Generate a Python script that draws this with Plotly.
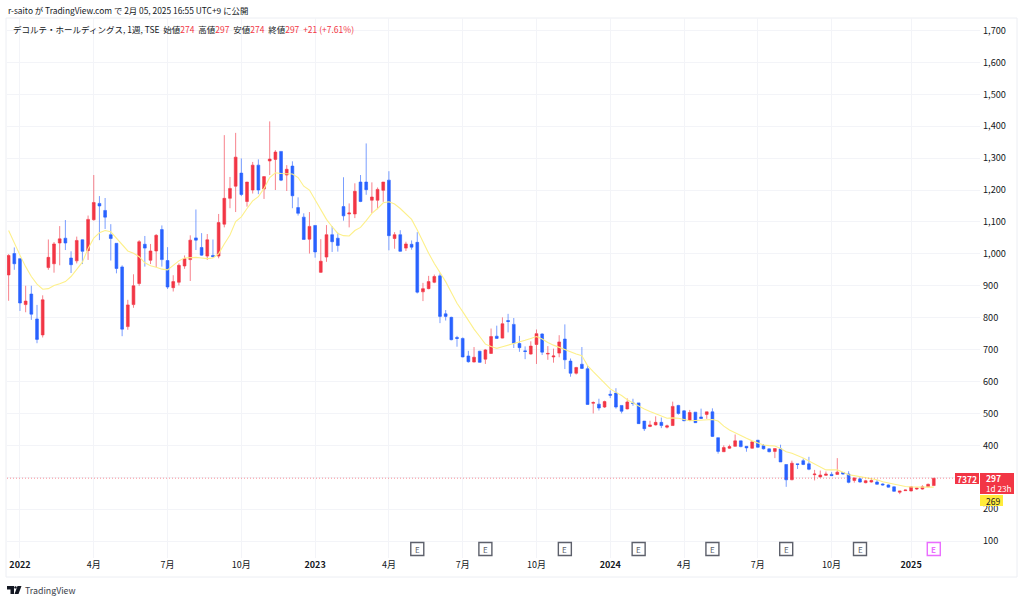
import pandas as pd
import plotly.graph_objects as go

# weekly bars, week of 2021-12-20 to week of 2025-02-03
opens = [934,1001,985,841,874,796,746,957,969,1034,1049,987,978,1044,1010,1107,1158,1136,1060,1033,959,772,841,907,1030,980,1009,1076,979,894,911,962,982,1050,1020,993,995,993,1093,1174,1212,1253,1164,1200,1278,1203,1291,1296,1321,1247,1275,1145,1115,1046,1089,942,990,1060,1049,1148,1125,1125,1225,1225,1168,1168,1199,1231,1048,1060,1018,1030,1036,881,891,911,931,812,801,738,735,680,661,695,670,688,742,736,791,779,719,696,686,716,749,686,677,689,733,664,626,654,640,532,529,520,560,564,525,514,533,533,476,459,464,472,457,462,525,508,478,504,489,497,505,424,380,391,397,414,397,391,416,399,389,381,389,340,292,342,352,342,308,301,306,309,309,315,310,290,295,283,285,285,279,276,270,253,258,257,263,263,270,274]
highs = [999,1020,985,900,900,840,870,1045,1037,1087,1106,1008,1054,1045,1120,1247,1181,1175,1093,1033,964,856,936,1043,1056,1031,1062,1089,1021,933,970,995,1058,1139,1065,1062,1045,1125,1372,1241,1379,1299,1225,1288,1296,1242,1415,1325,1321,1278,1290,1177,1127,1131,1089,1046,1090,1087,1066,1240,1158,1221,1247,1346,1224,1208,1225,1259,1068,1074,1038,1042,1068,909,931,935,939,824,803,743,738,696,708,696,702,766,775,801,812,799,743,710,726,763,751,711,703,745,779,672,646,708,650,538,546,540,572,579,525,547,546,533,476,477,491,487,465,537,527,510,511,504,515,505,516,424,400,402,434,414,397,414,417,404,390,390,402,340,352,342,359,364,323,321,318,316,360,316,319,299,299,292,294,292,281,278,271,257,261,271,267,275,280,297]
lows = [853,950,821,817,793,720,738,950,941,964,1012,940,970,968,981,1104,1043,1078,979,939,742,762,831,900,960,968,958,960,890,882,901,953,915,1012,994,981,989,986,1083,1143,1131,1181,1148,1189,1187,1172,1247,1200,1228,1197,1143,1120,1045,1001,988,940,975,1006,1007,1104,1083,1112,1162,1185,1128,1140,1163,1011,1016,1007,1009,1013,876,852,889,908,783,791,729,709,676,659,660,659,655,687,735,735,754,705,693,670,684,655,683,668,659,676,639,615,622,639,527,500,509,517,548,515,500,513,524,467,445,457,462,454,453,461,496,476,476,470,483,483,426,374,379,389,396,394,380,390,393,387,378,360,348,270,291,326,338,322,290,299,304,304,308,308,281,283,283,281,283,277,274,268,255,247,257,256,260,261,269,274]
closes = [995,969,846,852,811,732,856,989,1031,1047,1034,966,1042,1008,1108,1161,1150,1115,1048,954,764,840,900,1038,1018,1009,1058,982,896,913,964,985,1043,1043,996,1044,991,1098,1174,1205,1303,1186,1225,1278,1200,1242,1297,1319,1231,1265,1182,1127,1045,1086,1006,977,1060,1038,1026,1119,1128,1196,1164,1201,1178,1202,1225,1057,1060,1008,1031,1021,880,891,913,929,804,804,731,735,677,662,676,660,699,741,735,781,788,720,706,694,711,750,692,688,680,724,668,626,644,641,528,534,517,537,557,520,507,536,531,468,452,464,472,462,461,522,500,477,503,471,484,505,428,381,393,396,414,396,392,411,394,389,380,390,348,292,344,340,340,325,310,307,310,305,316,310,284,298,285,289,290,278,276,269,256,257,260,270,266,270,278,297]
ma_values = [1073,1033,996,960,929,905,889,891,901,906,913,929,950,974,1017,1049,1066,1073,1069,1049,1026,1009,1002,991,972,963,958,952,950,965,978,987,989,989,987,985,987,1000,1031,1059,1101,1116,1142,1166,1179,1205,1239,1254,1252,1250,1250,1239,1212,1200,1168,1137,1108,1085,1064,1057,1056,1073,1083,1104,1127,1142,1160,1163,1156,1142,1125,1108,1075,1038,1002,970,941,913,879,845,819,791,764,741,717,710,704,709,714,718,722,729,735,741,733,722,714,707,699,691,686,681,650,631,613,595,577,566,556,543,533,523,514,506,499,491,485,486,485,481,477,478,479,480,481,476,460,448,439,429,422,414,408,401,399,398,390,380,375,368,360,351,342,333,323,323,323,316,308,305,302,299,296,292,286,282,278,274,271,270,269,269,269,269]

y_ticks = [100,200,300,400,500,600,700,800,900,1000,1100,1200,1300,1400,1500,1600,1700]
y_labels = ["100","200","","400","500","600","700","800","900","1,000","1,100","1,200","1,300","1,400","1,500","1,600","1,700"]
x_ticks = ["2022-01-03","2022-04-04","2022-07-04","2022-10-03","2023-01-02","2023-04-03","2023-07-03","2023-10-02","2024-01-01","2024-04-01","2024-07-01","2024-09-30","2025-01-06"]
x_labels = ["<b>2022</b>","4月","7月","10月","<b>2023</b>","4月","7月","10月","<b>2024</b>","4月","7月","10月","<b>2025</b>"]
earnings = ["2023-05-08","2023-07-31","2023-11-06","2024-02-05","2024-05-06","2024-08-05","2024-11-04","2025-02-03"]

RED = "#f23645"
BLUE = "#2962ff"
INK = "#131722"
GRID = "#f3f4f8"
FONT = "Noto Sans CJK JP"
W, H = 1024, 602
L, R, T, B = 7, 980, 18, 558

weeks = pd.date_range("2021-12-20", periods=len(closes), freq="7D")

def px(x):
    return (x - L) / (R - L)

def py(y):
    return (B - y) / (B - T)

def poly(points):
    return "M" + " L".join(f"{px(a):.5f},{py(b):.5f}" for a, b in points) + " Z"

fig = go.Figure()
fig.add_trace(go.Scatter(x=weeks, y=ma_values, mode="lines", line=dict(color="#fdf08a", width=1.1),
                         hoverinfo="skip", showlegend=False))
fig.add_trace(go.Candlestick(
    x=weeks, open=opens, high=highs, low=lows, close=closes, showlegend=False,
    increasing=dict(line=dict(color="rgba(242,54,69,0.62)", width=1), fillcolor=RED),
    decreasing=dict(line=dict(color="rgba(41,98,255,0.62)", width=1), fillcolor=BLUE),
))

shapes = [
    dict(type="rect", xref="paper", yref="paper", x0=px(6), x1=px(1017), y0=py(577), y1=py(18),
         line=dict(color="#eceef3", width=1), fillcolor="rgba(0,0,0,0)", layer="below"),
    dict(type="line", xref="paper", yref="y", x0=0, x1=px(955), y0=closes[-1], y1=closes[-1],
         line=dict(color="rgba(242,54,69,0.55)", width=1, dash="1px,2px")),
    dict(type="rect", xref="paper", yref="paper", x0=px(955), x1=px(979), y0=py(484), y1=py(473),
         line=dict(width=0), fillcolor=RED, layer="above"),
    dict(type="rect", xref="paper", yref="paper", x0=px(980), x1=px(1014), y0=py(494), y1=py(473),
         line=dict(width=0), fillcolor=RED, layer="above"),
    dict(type="rect", xref="paper", yref="paper", x0=px(980), x1=px(1003), y0=py(506), y1=py(495),
         line=dict(width=0), fillcolor="#ffeb3b", layer="above"),
    # TradingView mark
    dict(type="path", xref="paper", yref="paper", line=dict(width=0), fillcolor=INK,
         path=poly([(7, 586), (14, 586), (14, 594), (10.5, 594), (10.5, 589.5), (7, 589.5)])),
    dict(type="path", xref="paper", yref="paper", line=dict(width=0), fillcolor=INK,
         path=poly([(17.5, 586), (21.5, 586), (18.5, 594), (14.5, 594)])),
    dict(type="circle", xref="paper", yref="paper", line=dict(width=0), fillcolor=INK,
         x0=px(14.3), x1=px(16.7), y0=py(588.6), y1=py(586.2)),
]

def text(x, y, s, size=10, color=INK, anchor="left", **kw):
    return dict(xref="paper", yref="paper", x=px(x), y=py(y), text=s, showarrow=False,
                xanchor=anchor, yanchor="middle", align=anchor,
                font=dict(family=FONT, size=size, color=color), **kw)

def num(v):
    return f'<span style="color:{RED}">{v}</span>'

title = ("デコルテ・ホールディングス, 1週, TSE&nbsp;&nbsp;始値" + num(opens[-1]) + "&nbsp;&nbsp;高値" + num(highs[-1])
         + "&nbsp;&nbsp;安値" + num(lows[-1]) + "&nbsp;&nbsp;終値" + num(closes[-1])
         + "&nbsp;&nbsp;" + num("+21 (+7.61%)"))

annotations = [
    text(6, 10, "r-saito が TradingView.com で 2月 05, 2025 16:55 UTC+9 に公開", size=8.4),
    text(11, 29, title, size=8.5),
    text(23, 590, "TradingView", size=8.8, color="#3a3e4a"),
    text(967, 478.5, "<b>7372</b>", size=8.5, color="#ffffff", anchor="center"),
    text(984, 478, "<b>297</b>", size=8.5, color="#ffffff"),
    text(984, 488.5, "1d 23h", size=8.2, color="#ffffff"),
    text(984, 500.5, "269", size=8.5, color=INK),
]
for i, d in enumerate(earnings):
    last = i == len(earnings) - 1
    c = "#ea6cff" if last else "#5d606b"
    shapes.append(dict(type="rect", xref="x", yref="paper", xsizemode="pixel", xanchor=d,
                       x0=-6.5, x1=6.5, y0=py(555.5), y1=py(542.5),
                       line=dict(color=c, width=1.4), fillcolor="#ffffff", layer="above"))
    annotations.append(dict(x=d, xref="x", yref="paper", y=py(549), text="<b>E</b>" if last else "E",
                            showarrow=False, xanchor="center", yanchor="middle",
                            font=dict(family=FONT, size=8, color=c)))

fig.update_layout(
    width=W, height=H, autosize=False,
    margin=dict(l=L, r=W - R, t=T, b=H - B, pad=0),
    paper_bgcolor="#ffffff", plot_bgcolor="#ffffff",
    font=dict(family=FONT, size=9.5, color=INK),
    showlegend=False, shapes=shapes, annotations=annotations,
    xaxis=dict(type="date", range=["2021-12-18", "2025-04-01"], rangeslider=dict(visible=False),
               tickmode="array", tickvals=x_ticks, ticktext=x_labels, ticks="", showline=False,
               gridcolor=GRID, gridwidth=1, zeroline=False, tickfont=dict(size=9, color=INK)),
    yaxis=dict(side="right", range=[47, 1739], tickmode="array", tickvals=y_ticks, ticktext=y_labels,
               ticks="", ticklabelstandoff=2, showline=False, gridcolor=GRID, gridwidth=1, zeroline=False,
               tickfont=dict(size=9.2, color=INK)),
)

fig.write_html("out.html", config={"displayModeBar": False},
               post_script="document.body.style.margin='0';")
